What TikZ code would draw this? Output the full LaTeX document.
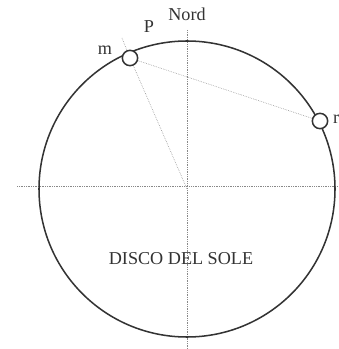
\documentclass[tikz,border=0pt]{standalone}
\usepackage{fontspec}
\setmainfont{Liberation Serif}
\usetikzlibrary{calc}
\definecolor{inkgray}{HTML}{333333}
\definecolor{dotgray}{HTML}{888888}

\begin{document}
\begin{tikzpicture}[
  x=0.03cm, y=-0.03cm,
  axis/.style={dotgray, densely dotted, line width=0.5pt},
  ring/.style={circle, draw=inkgray, line width=1.3pt, fill=white, minimum size=0.46cm, inner sep=0pt},
  label/.style={font=\fontsize{15.5}{18}\selectfont, text=inkgray},
]
  \useasboundingbox (0,0) rectangle (338,349);

  \coordinate (o) at (187,189);
  \coordinate (n) at (187,30);
  \coordinate (s) at (187,349);
  \coordinate (w) at (17,186);
  \coordinate (e) at (338,186);
  \coordinate (p) at (122,38);

  % axes
  \draw[axis] (n) -- (s);
  \draw[axis] (w) -- (e);

  % disk
  \draw[inkgray, line width=1.3pt] (o) circle (148);

  \node[ring] (m) at (130,58) {};
  \node[ring] (r) at (320,121) {};

  \draw[axis] (p) -- (m);
  \draw[axis] (m) -- (o);
  \draw[axis] (m) -- (r);

  \node[label] (nord) at (187,14) {Nord};
  \node[label] (plab) at (149,27) {P};
  \node[label] (mlab) at (105,50) {m};
  \node[label, anchor=west] (rlab) at (329,119) {r};
  \node[label] (disco) at (181,259) {DISCO DEL SOLE};
\end{tikzpicture}
\end{document}
